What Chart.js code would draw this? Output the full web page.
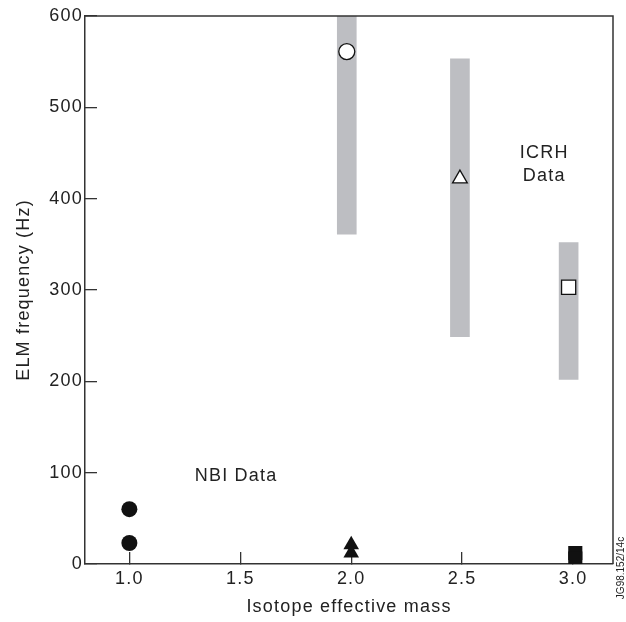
<!DOCTYPE html>
<html>
<head>
<meta charset="utf-8">
<script src="https://cdn.jsdelivr.net/npm/chart.js@4"></script>
<style>
  body { margin: 0; background: #fff; }
  canvas { display: block; }
</style>
</head>
<body>
<canvas id="chart" width="626" height="622"></canvas>
<script>
// ICRH data: grey range bars + open markers
const icrhMass = [1.98, 2.49, 2.98];
const icrhLow = [361, 249, 202];
const icrhHigh = [600, 553, 352];
const icrhValue = [561, 422, 303];

// NBI data: filled markers near the bottom
const nbiCircleMass = [1.0, 1.0];
const nbiCircleValue = [60, 23];
const nbiTriangleMass = [2.0, 2.0];
const nbiTriangleValue = [21, 12];
const nbiSquareMass = [3.01, 3.01];
const nbiSquareValue = [12, 6];

const xTicks = [1.0, 1.5, 2.0, 2.5, 3.0];
const yTicks = [0, 100, 200, 300, 400, 500, 600];

const notes = ["NBI Data", "ICRH", "Data"];
const noteMass = [1.295, 2.87, 2.87];
const noteValue = [96, 450, 425];
const noteAlign = ["left", "center", "center"];
const figureId = "JG98.152/14c";

const ink = "#222";
const font = { family: "'Liberation Sans', Arial, sans-serif", size: 18 };

const pts = (xs, ys) => xs.map((x, i) => ({ x: x, y: ys[i] }));

const framePlugin = {
  id: "frame",
  beforeDraw(chart) {
    chart.ctx.letterSpacing = "1.2px";
  },
  afterDraw(chart) {
    const ctx = chart.ctx;
    const { left, right, top, bottom } = chart.chartArea;
    const x = chart.scales.x;
    const y = chart.scales.y;
    ctx.save();
    ctx.strokeStyle = "#333";
    ctx.lineWidth = 1.5;
    ctx.beginPath();
    ctx.moveTo(left, top);
    ctx.lineTo(right, top);
    ctx.lineTo(right, bottom);
    ctx.stroke();

    ctx.fillStyle = ink;
    ctx.font = "18px 'Liberation Sans', Arial, sans-serif";
    ctx.textBaseline = "middle";
    notes.forEach((t, i) => {
      ctx.textAlign = noteAlign[i];
      ctx.fillText(t, x.getPixelForValue(noteMass[i]), y.getPixelForValue(noteValue[i]));
    });

    ctx.letterSpacing = "0px";
    ctx.font = "10px 'Liberation Sans', Arial, sans-serif";
    ctx.translate(621, 568);
    ctx.rotate(-Math.PI / 2);
    ctx.textAlign = "center";
    ctx.fillText(figureId, 0, 0);
    ctx.restore();
  }
};

new Chart(document.getElementById("chart"), {
  type: "scatter",
  data: {
    datasets: [
      {
        type: "bar",
        data: icrhMass.map((m, i) => ({ x: m, y: [icrhLow[i], icrhHigh[i]] })),
        backgroundColor: "#bdbec2",
        borderWidth: 0,
        barThickness: 19,
        grouped: false,
        order: 3
      },
      {
        data: pts(icrhMass.slice(0, 1), icrhValue.slice(0, 1)),
        pointStyle: "circle",
        pointRadius: 8,
        backgroundColor: "#fff",
        borderColor: "#111",
        borderWidth: 1.3,
        order: 1
      },
      {
        data: pts(icrhMass.slice(1, 2), icrhValue.slice(1, 2)),
        pointStyle: "triangle",
        pointRadius: 8.5,
        backgroundColor: "#fff",
        borderColor: "#111",
        borderWidth: 1.3,
        order: 1
      },
      {
        data: pts(icrhMass.slice(2, 3), icrhValue.slice(2, 3)),
        pointStyle: "rect",
        pointRadius: 10,
        backgroundColor: "#fff",
        borderColor: "#111",
        borderWidth: 1.3,
        order: 1
      },
      {
        data: pts(nbiCircleMass, nbiCircleValue),
        pointStyle: "circle",
        pointRadius: 8,
        backgroundColor: "#111",
        borderColor: "#111",
        borderWidth: 0,
        order: 1
      },
      {
        data: pts(nbiTriangleMass, nbiTriangleValue),
        pointStyle: "triangle",
        pointRadius: 9,
        backgroundColor: "#111",
        borderColor: "#111",
        borderWidth: 0,
        order: 1
      },
      {
        data: pts(nbiSquareMass, nbiSquareValue),
        pointStyle: "rect",
        pointRadius: 10,
        backgroundColor: "#111",
        borderColor: "#111",
        borderWidth: 0,
        order: 1
      }
    ]
  },
  options: {
    responsive: false,
    animation: false,
    layout: { padding: { top: 16, right: 13, left: 0, bottom: 0 } },
    plugins: { legend: { display: false }, tooltip: { enabled: false } },
    scales: {
      x: {
        type: "linear",
        min: 0.8,
        max: 3.18,
        offset: false,
        afterFit: (s) => { s.height = 58; s.paddingLeft = 0; s.paddingRight = 0; },
        afterBuildTicks: (s) => { s.ticks = xTicks.map((v) => ({ value: v })); },
        border: { display: true, color: "#333", width: 1.5 },
        grid: { offset: false, drawOnChartArea: false, drawTicks: true, tickLength: -12, color: "#333", lineWidth: 1.3 },
        ticks: { color: ink, font: font, padding: 16, maxRotation: 0, callback: (v) => Number(v).toFixed(1) },
        title: { display: true, text: "Isotope effective mass", color: ink, font: font, padding: { top: 0, bottom: 4 } }
      },
      y: {
        min: 0,
        max: 600,
        afterFit: (s) => { s.width = 85; s.paddingTop = 0; s.paddingBottom = 0; },
        afterBuildTicks: (s) => { s.ticks = yTicks.map((v) => ({ value: v })); },
        border: { display: true, color: "#333", width: 1.5 },
        grid: { offset: false, drawOnChartArea: false, drawTicks: true, tickLength: -12, color: "#333", lineWidth: 1.3 },
        ticks: { color: ink, font: font, padding: 14 },
        title: { display: true, text: "ELM frequency (Hz)", color: ink, font: font, padding: { top: 13, bottom: 0 } }
      }
    }
  },
  plugins: [framePlugin]
});
</script>
</body>
</html>
